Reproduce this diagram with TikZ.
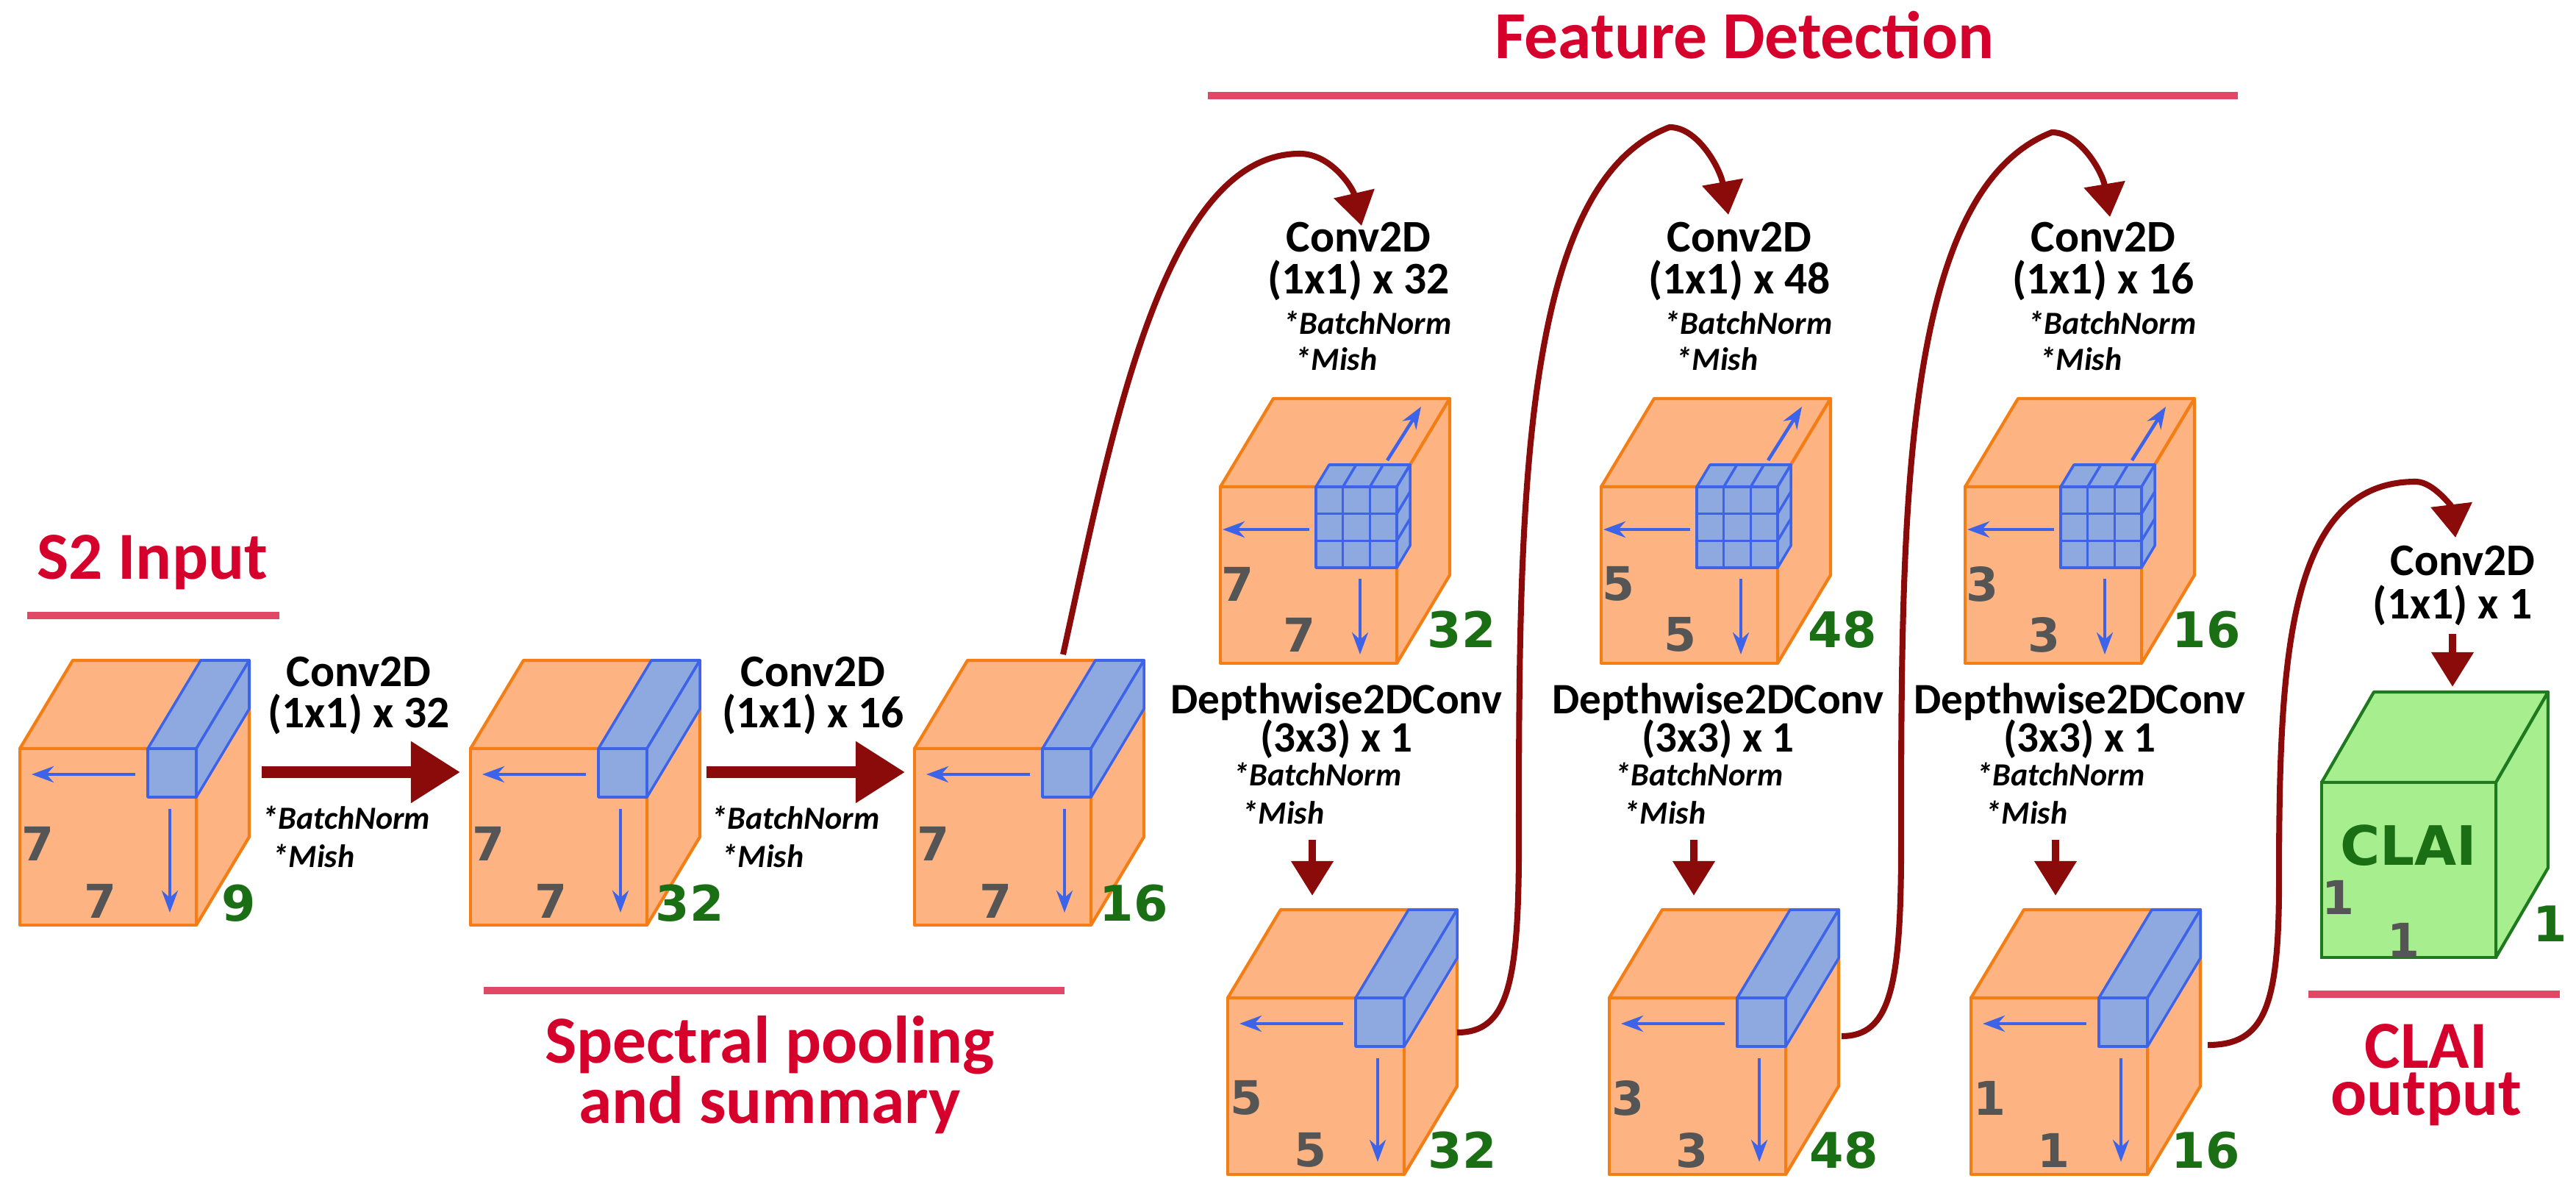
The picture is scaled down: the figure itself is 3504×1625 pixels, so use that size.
\documentclass[tikz,border=0pt]{standalone}
\usepackage{fontspec}
\setmainfont{Carlito}
\newfontfamily\numfont{DejaVu Sans}
\usetikzlibrary{arrows.meta}
\definecolor{orfill}{HTML}{FDB482}
\definecolor{orline}{HTML}{F47E16}
\definecolor{blfill}{HTML}{8DA9E0}
\definecolor{blline}{HTML}{3D63E8}
\definecolor{dred}{HTML}{8B0A0A}
\definecolor{tred}{HTML}{D6002C}
\definecolor{lred}{HTML}{E04866}
\definecolor{dgreen}{HTML}{1A6E14}
\definecolor{gfill}{HTML}{A6EE8E}
\definecolor{gline}{HTML}{1F7A1F}
\definecolor{gnum}{HTML}{555555}
\tikzset{
  x=0.01cm,y=-0.01cm,
  face/.style={fill=orfill,draw=orline,line width=1.2pt,line join=round},
  kface/.style={fill=blfill,draw=blline,line width=1pt,line join=round},
  barrow/.style={blline,line width=1.3pt,-{Stealth[length=0.3cm,width=0.22cm]}},
  lbl/.style={font=\bfseries\fontsize{17.5}{19}\selectfont,inner sep=0pt},
  dlbl/.style={font=\bfseries\fontsize{16.8}{19}\selectfont,inner sep=0pt},
  ital/.style={font=\bfseries\itshape\fontsize{12.5}{14}\selectfont,inner sep=0pt,anchor=west},
  title/.style={font=\bfseries\fontsize{26}{29}\selectfont,text=tred,inner sep=0pt},
  uline/.style={lred,line width=3pt},
  gnumst/.style={font=\numfont\bfseries\fontsize{18}{20}\selectfont,text=gnum,inner sep=0pt},
  cnumst/.style={font=\numfont\bfseries\fontsize{19}{21}\selectfont,text=dgreen,inner sep=0pt},
  bigarrow/.style={dred,line width=4.3pt,-{Triangle[length=0.67cm,width=0.8cm]}},
  downarrow/.style={dred,line width=3pt,-{Triangle[length=0.47cm,width=0.55cm]}},
  curvearrow/.style={dred,line width=2.3pt,-{Triangle[length=0.45cm,width=0.55cm]}},
  pics/box/.style={code={
    \draw[face] (0,0) -- (72,-120) -- (312,-120) -- (240,0) -- cycle;
    \draw[face] (240,0) -- (312,-120) -- (312,120) -- (240,240) -- cycle;
    \draw[face] (0,0) rectangle (240,240);
  }},
  pics/bar/.style={code={
    \draw[kface] (174,0) -- (246,-120) -- (312,-120) -- (240,0) -- cycle;
    \draw[kface] (240,0) -- (312,-120) -- (312,-54) -- (240,66) -- cycle;
    \draw[kface] (174,0) rectangle (240,66);
    \draw[barrow] (157,35) -- (16,35);
    \draw[barrow] (204,82) -- (204,223);
  }},
  pics/kernel/.style={code={
    \draw[kface] (130,0) -- (148,-30) -- (258,-30) -- (240,0) -- cycle;
    \draw[kface] (240,0) -- (258,-30) -- (258,80) -- (240,110) -- cycle;
    \draw[kface] (130,0) rectangle (240,110);
    \foreach \i in {1,2}{
      \draw[blline,line width=1pt] (130+36.67*\i,0) -- (130+36.67*\i,110);
      \draw[blline,line width=1pt] (130,36.67*\i) -- (240,36.67*\i);
      \draw[blline,line width=1pt] (130+36.67*\i,0) -- (148+36.67*\i,-30);
      \draw[blline,line width=1pt] (240,36.67*\i) -- (258,36.67*\i-30);
    }
    \draw[barrow] (121,58) -- (3,58);
    \draw[barrow] (190,125) -- (190,228);
    \draw[barrow] (227,-36) -- (273,-109);
  }},
}
\begin{document}
\begin{tikzpicture}
\useasboundingbox[fill=white] (0,0) rectangle (3504,1625);

% titles
\node[title] (t1) at (207,765) {S2 Input};
\draw[uline] (37,837) -- (380,837);
\draw[uline] (658,1347) -- (1448,1347);
\node[title] (t2) at (1047,1421) {Spectral pooling};
\node[title] (t3) at (1047,1503) {and summary};
\node[title] (t4) at (2373,48) {Feature Detection};
\draw[uline] (1643,130) -- (3044,130);
\draw[uline] (3140,1352) -- (3482,1352);
\node[title] (t5) at (3300,1423) {CLAI};
\node[title] (t6) at (3300,1495) {output};

% first row cubes
\foreach \x/\n/\nm in {27/9/a,640/32/b,1244/16/c}{
  \pic at (\x,1018) {box};
  \pic at (\x,1018) {bar};
  \node[gnumst] at (\x+25,1147) {7};
  \node[gnumst] at (\x+110,1225) {7};
  \node[cnumst] at (\x+298,1228) {\n};
}
\coordinate (c3top) at (1446,890);

% horizontal arrows
\coordinate (h1s) at (356,1050); \coordinate (h1e) at (626,1050);
\coordinate (h2s) at (961,1050); \coordinate (h2e) at (1231,1050);
\draw[bigarrow] (h1s) -- (h1e);
\draw[bigarrow] (h2s) -- (h2e);
\node[lbl] (l1a) at (488,914) {Conv2D};
\node[lbl] (l1b) at (488,971) {(1x1) x 32};
\node[ital] (l1c) at (356,1112) {*BatchNorm};
\node[ital] (l1d) at (370,1164) {*Mish};
\node[lbl] (l2a) at (1106,914) {Conv2D};
\node[lbl] (l2b) at (1106,971) {(1x1) x 16};
\node[ital] (l2c) at (967,1112) {*BatchNorm};
\node[ital] (l2d) at (981,1164) {*Mish};

% feature detection columns
\foreach \x/\y/\d/\n/\k in {1660/1670/7/32/5,2178/2189/5/48/3,2673/2681/3/16/1}{
  \pic at (\x,662) {box};
  \pic at (\x,662) {kernel};
  \node[gnumst] at (\x+23,794) {\d};
  \node[gnumst] at (\x+107,863) {\d};
  \node[cnumst] at (\x+328,856) {\n};
  \node[lbl] at (\x+188,323) {Conv2D};
  \node[lbl] at (\x+188,381) {(1x1) x \n};
  \node[ital] at (\x+85,439) {*BatchNorm};
  \node[ital] at (\x+101,488) {*Mish};
  \node[dlbl] at (\y+148,954) {Depthwise2DConv};
  \node[dlbl] at (\y+148,1005) {(3x3) x 1};
  \node[ital] at (\y+7,1053) {*BatchNorm};
  \node[ital] at (\y+19,1105) {*Mish};
  \draw[downarrow] (\y+115,1142) -- (\y+115,1218);
  \pic at (\y,1357) {box};
  \pic at (\y,1357) {bar};
  \node[gnumst] at (\y+25,1493) {\k};
  \node[gnumst] at (\y+112,1564) {\k};
  \node[cnumst] at (\y+319,1564) {\n};
}

% CLAI output cube
\draw[fill=gfill,draw=gline,line width=1.2pt,line join=round] (3158,1064) -- (3229,941) -- (3466,941) -- (3395,1064) -- cycle;
\draw[fill=gfill,draw=gline,line width=1.2pt,line join=round] (3395,1064) -- (3466,941) -- (3466,1180) -- (3395,1302) -- cycle;
\draw[fill=gfill,draw=gline,line width=1.2pt] (3158,1064) rectangle (3395,1302);
\node[font=\numfont\bfseries\fontsize{21}{24}\selectfont,text=dgreen,inner sep=0pt] (clai) at (3276,1150) {CLAI};
\node[gnumst] at (3180,1220) {1};
\node[gnumst] at (3269,1278) {1};
\node[cnumst] at (3469,1256) {1};
\node[lbl] (l9a) at (3350,763) {Conv2D};
\node[lbl] (l9b) at (3336,823) {(1x1) x 1};
\draw[downarrow] (3336,862) -- (3336,934);

% curved connectors
\coordinate (k1) at (1852,307);
\coordinate (k2) at (2351,292);
\coordinate (k3) at (2870,295);
\coordinate (k4) at (3340,731);
\coordinate (s2) at (1982,1404);
\coordinate (s3) at (2505,1409);
\coordinate (s4) at (3003,1421);
\draw[curvearrow] (c3top) .. controls (1510,600) and (1580,209) .. (1768,209) .. controls (1810,209) and (1840,255) .. (k1);
\draw[curvearrow] (s2) .. controls (2050,1404) and (2066,1340) .. (2066,1150) .. controls (2066,700) and (2066,250) .. (2271,173) .. controls (2310,173) and (2340,230) .. (k2);
\draw[curvearrow] (s3) .. controls (2570,1409) and (2586,1345) .. (2586,1150) .. controls (2586,700) and (2586,260) .. (2791,180) .. controls (2830,180) and (2860,235) .. (k3);
\draw[curvearrow] (s4) .. controls (3080,1421) and (3100,1370) .. (3100,1200) .. controls (3100,900) and (3110,655) .. (3286,655) .. controls (3310,655) and (3335,690) .. (k4);
\end{tikzpicture}
\end{document}
